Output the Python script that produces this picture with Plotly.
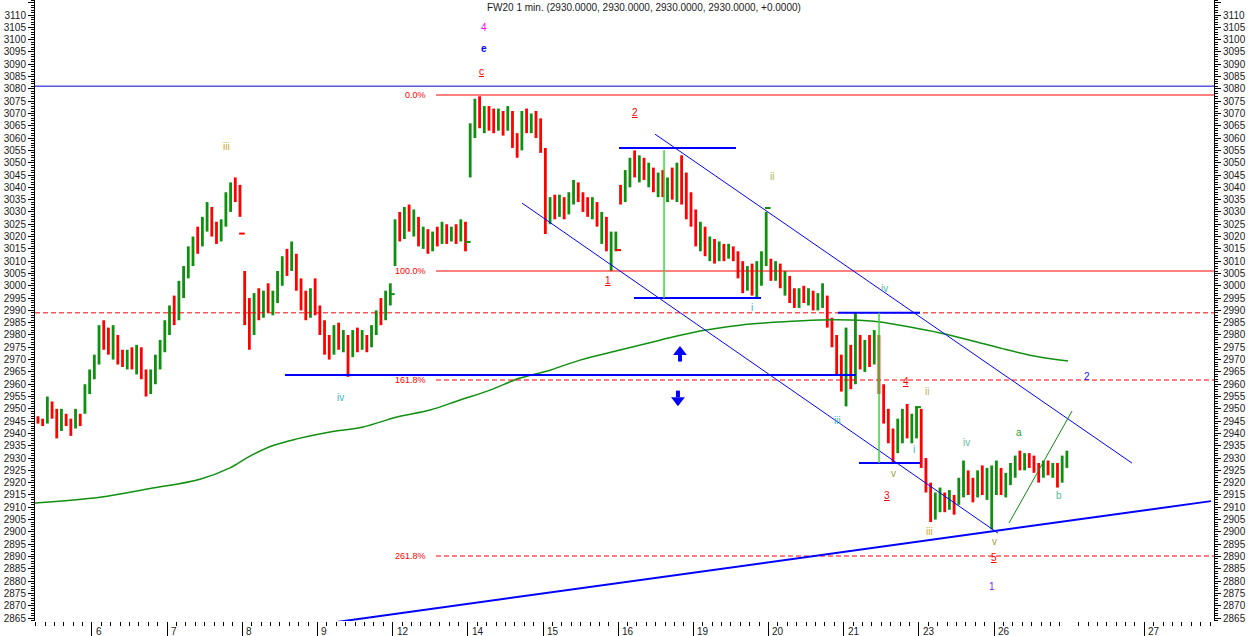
import plotly.graph_objects as go

# ---------------- data ----------------
title_text = "FW20 1 min. (2930.0000, 2930.0000, 2930.0000, 2930.0000, +0.0000)"

# x axis: one slot per trading day (slot 0 = day 6)
day_labels = ["6", "7", "8", "9", "12", "14", "15", "16", "19", "20", "21", "23", "26", "27"]
day_slots = [0, 1, 2, 3, 4, 5, 6, 7, 8, 9, 10, 11, 12, 14]

# trading days that carry bars (slot), bars per slot, bars shown per day, opening price
bar_day_slots = [-1, 0, 1, 2, 3, 4, 5, 6, 7, 8, 9, 10, 11, 12]
bars_per_slot = 16
bar_counts = [12, 16, 16, 16, 16, 16, 16, 16, 16, 16, 16, 16, 16, 16]
day_open = [2946, 2964, 2984, 3005, 2990, 3010, 3044, 3056, 3040, 3030, 3009, 2956, 2950, 2920]

bar_low = [
    2944, 2943, 2944, 2946, 2938, 2941, 2943, 2939, 2942, 2943, 2948, 2956,
    2962, 2968, 2974, 2972, 2970, 2968, 2967, 2966, 2966, 2964, 2962, 2955, 2956, 2960, 2966, 2973,
    2980, 2984, 2986, 2995, 3003, 3008, 3013, 3016, 3022, 3020, 3017, 3018, 3024, 3030, 3034, 3028,
    2984, 2974, 2980, 2986, 2987, 2989, 2988, 2993, 3000, 3004, 3006, 2998, 2990, 2986, 2987, 2988,
    2980, 2972, 2970, 2972, 2974, 2973, 2963, 2971, 2973, 2974, 2973, 2975, 2980, 2984, 2986, 2992,
    3008, 3018, 3019, 3022, 3020, 3016, 3015, 3013, 3014, 3016, 3017, 3017, 3018, 3017, 3018, 3014,
    3044, 3060, 3064, 3062, 3063, 3062, 3063, 3061, 3063, 3056, 3052, 3055, 3062, 3062, 3060, 3054,
    3021, 3025, 3027, 3028, 3027, 3029, 3033, 3034, 3030, 3028, 3027, 3024, 3017, 3014, 3006, 3014,
    3033, 3034, 3040, 3044, 3042, 3043, 3040, 3038, 3036, 3036, 3034, 3035, 3034, 3033, 3027, 3024,
    3016, 3014, 3012, 3010, 3009, 3010, 3010, 3011, 3010, 3003, 2997, 2998, 2996, 2995, 3000, 3008,
    3002, 3002, 2999, 2996, 2993, 2991, 2991, 2993, 2992, 2990, 2990, 2991, 2983, 2975, 2964, 2957,
    2951, 2958, 2960, 2966, 2965, 2967, 2968, 2956, 2944, 2936, 2928, 2932, 2936, 2938, 2936, 2938,
    2926, 2916, 2904, 2905, 2908, 2908, 2909, 2907, 2911, 2914, 2915, 2912, 2914, 2915, 2913, 2901,
    2915, 2915, 2914, 2919, 2922, 2925, 2925, 2926, 2924, 2920, 2922, 2923, 2922, 2918, 2920, 2926,
]
bar_high = [
    2947, 2946, 2955, 2953, 2950, 2950, 2948, 2946, 2950, 2948, 2960, 2966,
    2972, 2984, 2986, 2983, 2984, 2980, 2974, 2974, 2975, 2976, 2975, 2966, 2966, 2972, 2978, 2986,
    2992, 2996, 3002, 3008, 3016, 3020, 3024, 3028, 3034, 3032, 3026, 3027, 3038, 3042, 3044, 3041,
    3006, 2995, 2997, 2999, 2998, 3001, 2998, 3006, 3012, 3015, 3018, 3013, 3003, 2998, 2999, 3003,
    2992, 2986, 2980, 2984, 2985, 2982, 2980, 2982, 2983, 2982, 2980, 2984, 2990, 2995, 2998, 3001,
    3027, 3030, 3032, 3033, 3031, 3028, 3024, 3023, 3022, 3024, 3026, 3025, 3024, 3025, 3027, 3026,
    3066, 3076, 3077, 3073, 3073, 3072, 3072, 3071, 3073, 3071, 3062, 3071, 3072, 3070, 3071, 3068,
    3056, 3036, 3037, 3037, 3036, 3038, 3043, 3042, 3038, 3036, 3036, 3034, 3030, 3028, 3022, 3022,
    3041, 3047, 3052, 3055, 3053, 3052, 3050, 3048, 3046, 3047, 3044, 3048, 3050, 3053, 3046, 3038,
    3031, 3026, 3024, 3020, 3019, 3018, 3017, 3017, 3016, 3014, 3010, 3008, 3009, 3010, 3014, 3030,
    3011, 3010, 3009, 3006, 3004, 2999, 2999, 3000, 2999, 2998, 2997, 3001, 2996, 2987, 2980, 2972,
    2983, 2976, 2989, 2980, 2978, 2980, 2982, 2980, 2960, 2950, 2942, 2946, 2950, 2952, 2948, 2951,
    2950, 2930, 2920, 2916, 2918, 2916, 2917, 2915, 2922, 2929, 2925, 2922, 2925, 2927, 2926, 2927,
    2929, 2926, 2924, 2928, 2931, 2933, 2932, 2932, 2931, 2928, 2929, 2929, 2928, 2928, 2931, 2933,
]
bar_close = [
    2945, 2944, 2953, 2948, 2941, 2948, 2944, 2941, 2948, 2944, 2958, 2964,
    2970, 2980, 2978, 2975, 2982, 2970, 2969, 2972, 2968, 2974, 2964, 2959, 2964, 2970, 2975, 2984,
    2989, 2987, 3000, 3006, 3012, 3018, 3016, 3026, 3030, 3022, 3019, 3025, 3036, 3040, 3038, 3031,
    2990, 2980, 2994, 2990, 2995, 2992, 2996, 3004, 3010, 3008, 3015, 3000, 2994, 2989, 2996, 2992,
    2983, 2975, 2973, 2981, 2977, 2979, 2970, 2980, 2976, 2978, 2975, 2982, 2988, 2986, 2995, 2997,
    3025, 3022, 3030, 3025, 3028, 3018, 3021, 3016, 3020, 3018, 3024, 3019, 3022, 3019, 3024, 3016,
    3064, 3070, 3066, 3071, 3065, 3064, 3070, 3062, 3070, 3058, 3056, 3068, 3064, 3068, 3066, 3056,
    3028, 3034, 3029, 3035, 3030, 3036, 3041, 3036, 3033, 3031, 3034, 3026, 3027, 3016, 3017, 3018,
    3035, 3045, 3048, 3046, 3050, 3045, 3047, 3041, 3043, 3038, 3042, 3037, 3048, 3036, 3030, 3028,
    3020, 3023, 3015, 3017, 3012, 3016, 3012, 3015, 3012, 3006, 3000, 3004, 3002, 3007, 3012, 3028,
    3004, 3008, 3001, 3003, 2995, 2993, 2997, 2995, 2997, 2992, 2995, 2998, 2985, 2977, 2968, 2960,
    2972, 2962, 2976, 2970, 2975, 2972, 2980, 2960, 2948, 2940, 2931, 2944, 2948, 2940, 2945, 2949,
    2929, 2918, 2907, 2913, 2916, 2911, 2914, 2910, 2920, 2923, 2917, 2915, 2922, 2918, 2924, 2925,
    2926, 2917, 2921, 2926, 2929, 2927, 2930, 2928, 2925, 2922, 2927, 2925, 2926, 2920, 2929, 2930,
]

# closing-auction prints at the end of some days
close_print_slot = [1.995, 3.99, 5.0, 7.0, 8.99, 10.99]
close_print_value = [3021.2, 2996.6, 3017.8, 3014.5, 3031.6, 2950.7]
close_print_up = [False, True, True, False, True, True]

# long moving average
ma_slot = [-0.758, 0.106, 0.772, 1.437, 1.836, 2.102, 2.4, 2.727, 3.166, 3.605, 4.058, 4.497, 4.896,
           5.295, 5.694, 6.093, 6.492, 7.024, 7.556, 8.088, 8.62, 9.153, 9.685, 10.084, 10.483,
           10.882, 11.281, 11.68, 12.079, 12.478, 12.984]
ma_value = [2911.7, 2914.1, 2917.6, 2921.4, 2926.0, 2930.8, 2935.0, 2937.8, 2940.6, 2942.6, 2946.7,
            2949.5, 2953.6, 2957.6, 2962.5, 2965.7, 2969.8, 2973.9, 2977.9, 2981.6, 2984.0, 2985.3,
            2986.1, 2986.1, 2985.3, 2983.2, 2980.8, 2977.9, 2974.7, 2971.8, 2969.4]

# horizontal reference levels
top_blue_level = 3081.1
red_dashed_level = 2989.0
fib_levels = [3077.5, 3006.0, 2961.7, 2890.2]
fib_labels = ["0.0%", "100.0%", "161.8%", "261.8%"]
fib_dash = ["solid", "solid", "5px,3px", "5px,3px"]
fib_start_slot = 4.576
fib_label_slot = 4.47

# drawn trend lines: (slot0, slot1), (value0, value1)
channel_upper_slot = [7.490, 13.835]
channel_upper_value = [3061.6, 2927.96]
channel_lower_slot = [5.720, 12.053]
channel_lower_value = [3033.6, 2899.5]
support_slot = [3.140, 14.886]
support_value = [2862.9, 2912.5]
green_trend_slot = [12.199, 13.037]
green_trend_value = [2903.6, 2949.1]

# horizontal blue segments: start slot, end slot, level
seg_start = [7.011, 7.210, 9.924, 10.203, 2.567]
seg_end = [8.567, 8.900, 11.015, 11.015, 10.164]
seg_level = [3056.0, 2995.0, 2989.0, 2928.0, 2963.7]

# light green verticals: slot, top, bottom
vert_slot = [7.610, 10.470]
vert_top = [3055.1, 2989.0]
vert_bottom = [2995.0, 2928.0]

# arrows: slot, tail, tip
arrow_slot = [7.822, 7.795]
arrow_tail = [2969.2, 2957.4]
arrow_tip = [2974.3, 2952.3]

# wave labels
wave_text = ["4", "<b>e</b>", "<u>c</u>", "iii", "iv", "<u>2</u>", "<u>1</u>", "i", "ii", "iv",
             "iii", "ii", "<u>4</u>", "i", "v", "<u>3</u>", "iii", "iv", "a", "b", "2", "v",
             "<u>5</u>", "1"]
wave_slot = [5.215, 5.215, 5.188, 1.783, 3.312, 7.224, 6.864, 8.780, 9.046, 10.549,
             9.911, 11.108, 10.829, 10.935, 10.656, 10.576, 11.135, 11.640, 12.332, 12.864, 13.237, 12.0,
             12.0, 11.973]
wave_value = [3105.1, 3096.2, 3087.2, 3056.4, 2954.8, 3070.2, 3002.3, 2991.3, 3044.2, 2998.7,
              2945.4, 2957.2, 2961.3, 2933.6, 2923.9, 2914.6, 2900.3, 2936.5, 2940.2, 2914.6, 2963.3, 2895.9,
              2889.8, 2877.9]
wave_color = ["#ff00ff", "#0000ff", "#ff0000", "#c8a828", "#3cb4c8", "#ff0000", "#ff0000", "#3cb4c8",
              "#aab455", "#5ab4b0", "#3cb4c8", "#c0b050", "#ff0000", "#3cb4c8", "#a0a040", "#ff0000",
              "#c8a828", "#6ab8a0", "#2a9a2a", "#50b8a0", "#2020ff", "#a0a040", "#ff0000", "#8020ff"]

# ---------------- derived geometry ----------------
x_bar = []
bar_open = []
k = 0
for d, (slot, n) in enumerate(zip(bar_day_slots, bar_counts)):
    start = bars_per_slot - n
    for i in range(n):
        x_bar.append(slot + (start + i + 0.5) / bars_per_slot)
        bar_open.append(day_open[d] if i == 0 else bar_close[k - 1])
        k += 1

X_RANGE = [-0.758, 14.926]
Y_RANGE = [2863.8, 3116.1]
FONT = "Liberation Sans, Arial, sans-serif"
AXIS_TXT = "#1a1a1a"
PLOT_W = 1250 - 35 - 36
PLOT_H = 636 - 15
UNITS_PER_PX = (Y_RANGE[1] - Y_RANGE[0]) / PLOT_H
UP_COLOR = "#0e900e"
DOWN_COLOR = "#ff0000"

fig = go.Figure()

fig.add_trace(go.Ohlc(
    x=x_bar, open=bar_open, high=bar_high, low=bar_low, close=bar_close,
    increasing=dict(line=dict(color=UP_COLOR, width=2.8)),
    decreasing=dict(line=dict(color=DOWN_COLOR, width=2.8)),
    tickwidth=0, hoverinfo="skip", showlegend=False,
))

print_colors = [UP_COLOR if u else DOWN_COLOR for u in close_print_up]
fig.add_trace(go.Scatter(
    x=close_print_slot, y=close_print_value, mode="markers", hoverinfo="skip", showlegend=False,
    marker=dict(symbol="line-ew-open", size=4, color=print_colors,
                line=dict(width=2, color=print_colors)),
))


def add_line(xs, ys, color, width=1, dash="solid"):
    fig.add_trace(go.Scatter(x=xs, y=ys, mode="lines", hoverinfo="skip", showlegend=False,
                             line=dict(color=color, width=width, dash=dash)))


# moving average
fig.add_trace(go.Scatter(x=ma_slot, y=ma_value, mode="lines", line=dict(color="#109010", width=1.5,
                         shape="spline", smoothing=1.0), hoverinfo="skip", showlegend=False))

# full-width levels
add_line(X_RANGE, [top_blue_level] * 2, "#0000c8", 1)
add_line(X_RANGE, [red_dashed_level] * 2, "#ff0000", 1, "5px,3px")
for lv, ds in zip(fib_levels, fib_dash):
    add_line([fib_start_slot, X_RANGE[1]], [lv, lv], "#ff0000", 1, ds)

# channel / trend lines
add_line(channel_upper_slot, channel_upper_value, "#0000ff", 1)
add_line(channel_lower_slot, channel_lower_value, "#0000ff", 1)
add_line(support_slot, support_value, "#0000ff", 2)
add_line(green_trend_slot, green_trend_value, "#108a10", 1)

for s0, s1, lv in zip(seg_start, seg_end, seg_level):
    add_line([s0, s1], [lv, lv], "#0000ff", 2)
for s, t, b in zip(vert_slot, vert_top, vert_bottom):
    add_line([s, s], [t, b], "#33dd33", 1.5)

# arrows: thick shaft + triangular head
for s, tail, tip in zip(arrow_slot, arrow_tail, arrow_tip):
    up = tip > tail
    sign = 1 if up else -1
    head_len = 6 * UNITS_PER_PX
    add_line([s, s], [tail, tip - sign * head_len], "#0000ff", 4)
    fig.add_trace(go.Scatter(x=[s], y=[tip - sign * head_len / 2], mode="markers", hoverinfo="skip",
                             showlegend=False,
                             marker=dict(symbol="triangle-up" if up else "triangle-down", size=12,
                                         color="#0000ff", line=dict(width=0))))

# dummy trace on the right axis
fig.add_trace(go.Scatter(x=[X_RANGE[0]], y=[Y_RANGE[0]], yaxis="y2", mode="markers",
                         marker=dict(opacity=0), hoverinfo="skip", showlegend=False))

annotations = []
# title
annotations.append(dict(text=title_text, xref="paper", yref="paper", x=(485 - 35) / PLOT_W, y=1 - 7 / PLOT_H,
                        xanchor="left", yanchor="middle", showarrow=False,
                        font=dict(family=FONT, size=10, color="#1a1a1a")))
# day labels
for lab, s in zip(day_labels, day_slots):
    annotations.append(dict(text=lab, xref="x", yref="paper", x=s + 0.025, y=-10 / PLOT_H,
                            xanchor="left", yanchor="middle", showarrow=False,
                            font=dict(family=FONT, size=10, color=AXIS_TXT)))
# fib labels
for lv, lab in zip(fib_levels, fib_labels):
    annotations.append(dict(text=lab, xref="x", yref="y", x=fib_label_slot, y=lv,
                            xanchor="right", yanchor="middle", showarrow=False,
                            font=dict(family=FONT, size=9, color="#ff0000")))
# wave labels
for t, s, v, c in zip(wave_text, wave_slot, wave_value, wave_color):
    annotations.append(dict(text=t, xref="x", yref="y", x=s, y=v, xanchor="center", yanchor="middle",
                            showarrow=False, font=dict(family=FONT, size=10, color=c)))

minor_x = [i / 8 for i in range(-6, 120) if i % 8 != 0]

yaxis_common = dict(
    range=Y_RANGE, tickmode="linear", tick0=2865, dtick=5, ticks="outside", ticklen=6,
    tickcolor="black", showline=True, linecolor="black", linewidth=1, showgrid=False,
    zeroline=False, tickfont=dict(family=FONT, size=10, color=AXIS_TXT),
    minor=dict(tickmode="linear", tick0=2865, dtick=1, ticks="outside", ticklen=3, tickcolor="black",
               showgrid=False),
    fixedrange=True, automargin=False,
)

fig.update_layout(
    width=1250, height=636,
    margin=dict(l=35, r=36, t=0, b=15, pad=0),
    paper_bgcolor="white", plot_bgcolor="white",
    showlegend=False,
    xaxis=dict(range=X_RANGE, tickmode="array", tickvals=day_slots, ticks="outside", ticklen=14,
               tickcolor="black", showticklabels=False, showgrid=False, zeroline=False,
               showline=False, rangeslider=dict(visible=False), automargin=False, fixedrange=True,
               minor=dict(tickmode="array", tickvals=minor_x, ticks="outside", ticklen=4,
                          tickcolor="black", showgrid=False)),
    yaxis=dict(side="left", **yaxis_common),
    yaxis2=dict(side="right", overlaying="y", **yaxis_common),
    annotations=annotations,
    font=dict(family=FONT),
)

fig.write_html(
    "out.html",
    config={"displayModeBar": False},
    post_script="document.body.style.margin='0';document.body.style.overflow='hidden';",
)
